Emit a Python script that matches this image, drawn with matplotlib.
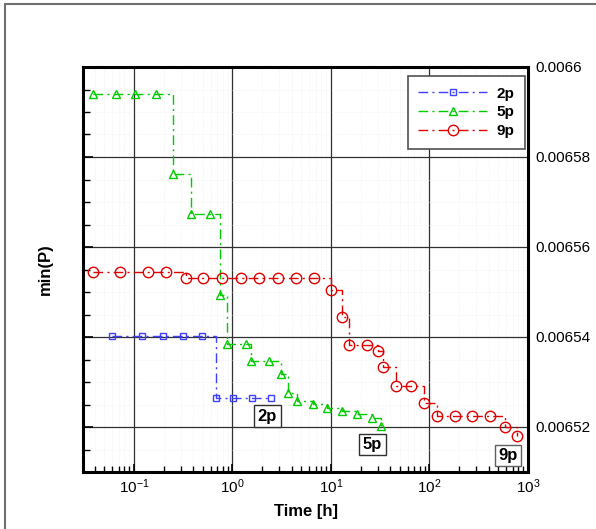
import numpy as np
import matplotlib
matplotlib.use("Agg")
import matplotlib.pyplot as plt
from matplotlib.ticker import MultipleLocator, LogLocator, FuncFormatter, NullFormatter
from matplotlib.patches import Rectangle

plt.rcParams['font.family'] = ['Liberation Sans', 'DejaVu Sans']
plt.rcParams['mathtext.fontset'] = 'custom'
plt.rcParams['mathtext.rm'] = 'Liberation Sans'
plt.rcParams['mathtext.it'] = 'Liberation Sans:italic'
plt.rcParams['mathtext.bf'] = 'Liberation Sans:bold'
plt.rcParams['axes.unicode_minus'] = False

# data
t_2p = [0.0594, 0.1197, 0.1954, 0.3114, 0.4853, 0.6728, 1.023, 1.594, 2.485]
p_2p = [0.0065402, 0.0065402, 0.0065402, 0.0065402, 0.0065402,
        0.0065264, 0.0065264, 0.0065264, 0.0065264]

t_5p = [0.0382, 0.0653, 0.1016, 0.166, 0.2466, 0.3754, 0.585, 0.7557, 0.890,
        1.386, 1.557, 2.371, 3.136, 3.69, 4.557, 6.617, 9.17, 13.02, 18.47, 26.2, 32.3]
p_5p = [0.006594, 0.006594, 0.006594, 0.006594, 0.0065762, 0.0065673, 0.0065673,
        0.0065493, 0.0065384, 0.0065384, 0.0065346, 0.0065346, 0.0065317, 0.0065276,
        0.0065258, 0.0065251, 0.0065242, 0.0065236, 0.0065229, 0.006522, 0.0065202]

t_9p = [0.0382, 0.0716, 0.1377, 0.2096, 0.334, 0.508, 0.792, 1.234, 1.877, 2.925,
        4.45, 6.774, 10.07, 13.02, 15.32, 23.3, 30.1, 33.9, 45.9, 65.1, 88.2,
        119.4, 181.7, 270.2, 411, 583, 772]
p_9p = [0.0065544, 0.0065544, 0.0065544, 0.0065544, 0.0065531, 0.0065531, 0.0065531,
        0.0065531, 0.0065531, 0.0065531, 0.0065531, 0.0065531, 0.0065504, 0.0065444,
        0.0065382, 0.0065382, 0.0065369, 0.0065333, 0.0065291, 0.0065291, 0.0065253,
        0.0065224, 0.0065224, 0.0065224, 0.0065224, 0.006520, 0.006518]

dashdot = (0, (7, 3, 1.5, 3))

fig = plt.figure(figsize=(5.96, 5.29), dpi=100)
ax = fig.add_axes([83/596, 1-472/529, 445/596, 405/529])

ax.plot(t_2p, p_2p, color='#4040ff', lw=1, linestyle=dashdot, drawstyle='steps-post',
        marker='s', ms=4.5, mfc='none', mew=1, label='2p')
ax.plot(t_5p, p_5p, color='#00cc00', lw=1, linestyle=dashdot, drawstyle='steps-post',
        marker='^', ms=5.5, mfc='none', mew=1, label='5p')
ax.plot(t_9p, p_9p, color='#e00000', lw=1, linestyle=dashdot, drawstyle='steps-post',
        marker='o', ms=7.5, mfc='none', mew=1, label='9p')

ax.set_xscale('log')
ax.set_xlim(0.0304, 1000)
ax.set_ylim(0.00651, 0.0066)

ax.xaxis.set_major_locator(LogLocator(base=10, numticks=10))
ax.xaxis.set_minor_locator(LogLocator(base=10, subs=np.arange(2, 10), numticks=20))
ax.xaxis.set_minor_formatter(NullFormatter())
ax.yaxis.set_major_locator(MultipleLocator(0.00002))
ax.yaxis.set_minor_locator(MultipleLocator(0.000005))
ax.yaxis.set_major_formatter(FuncFormatter(lambda v, p: '%g' % round(v, 6)))

ax.grid(True, which='major', color='#303030', lw=0.9)
ax.grid(True, which='minor', color='#ececec', lw=0.5, linestyle=':')

ax.tick_params(axis='x', which='both', direction='in', bottom=True, top=False, labelsize=11, pad=4)
ax.tick_params(axis='x', which='major', length=6, width=1.2)
ax.tick_params(axis='x', which='minor', length=4, width=1)
ax.tick_params(axis='y', which='both', direction='in', left=True, right=False,
               labelleft=False, labelright=True, labelsize=11, pad=5)
ax.tick_params(axis='y', which='major', length=7, width=1.2)
ax.tick_params(axis='y', which='minor', length=5, width=1)

for s in ax.spines.values():
    s.set_linewidth(2.2)

ax.set_xlabel('Time [h]', fontsize=12, fontweight='bold', labelpad=6)
ax.yaxis.set_label_position('left')
ax.set_ylabel('min(P)', fontsize=12, fontweight='bold', labelpad=22)

leg = ax.legend(loc='upper left', bbox_to_anchor=(0.723, 0.985), fontsize=11,
                handlelength=4.5, labelspacing=0.3, borderpad=0.7, handletextpad=0.6,
                borderaxespad=0.2, fancybox=False, framealpha=1, edgecolor='#505050')
leg.get_frame().set_linewidth(1.2)
for txt in leg.get_texts():
    txt.set_fontweight('bold')

box = dict(boxstyle='square,pad=0.2', fc='white', ec='#303030', lw=1)
ax.text(0.4146, 0.138, '2p', transform=ax.transAxes, ha='center', va='center',
        fontsize=12, fontweight='bold', bbox=box)
ax.text(0.6506, 0.068, '5p', transform=ax.transAxes, ha='center', va='center',
        fontsize=12, fontweight='bold', bbox=box)
ax.text(0.956, 0.041, '9p', transform=ax.transAxes, ha='center', va='center',
        fontsize=12, fontweight='bold', bbox=dict(boxstyle='square,pad=0.2', fc='white', ec='#606060', lw=1))

# outer frame (left and top edges only show)
fig.patches.append(Rectangle((5/596, -0.1), 1.5, 1.1-4/529, transform=fig.transFigure,
                             fill=False, ec='#707070', lw=1.5))

fig.savefig('out.png', dpi=100)
